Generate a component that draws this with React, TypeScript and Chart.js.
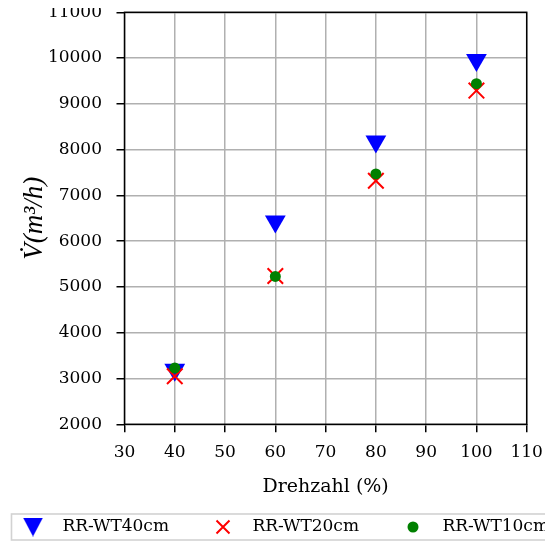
import React, { useEffect, useRef } from 'react';
import { Chart, registerables } from 'chart.js';

Chart.register(...registerables);

// ---- data ----
const drehzahl = [40, 60, 80, 100];
const wt40 = [3190, 6430, 8180, 9960];
const wt20 = [3050, 5240, 7320, 9290];
const wt10 = [3230, 5230, 7470, 9440];
const seriesNames = ['RR-WT40cm', 'RR-WT20cm', 'RR-WT10cm'];
const seriesColors = ['#0000ff', '#ff0000', '#008000'];
const xTitle = 'Drehzahl (%)';
const yTitle = 'V\u0307(m\u00b3/h)';
const xMin = 30, xMax = 110, xStep = 10;
const yMin = 2000, yMax = 11000, yStep = 1000;

const FAMILY = '"DejaVu Serif", serif';
const TITLE_FAMILY = '"Liberation Serif", "DejaVu Serif", serif';

function makeIcon(kind: number): HTMLCanvasElement {
  const c = document.createElement('canvas');
  const ctx = c.getContext('2d')!;
  if (kind === 0) {
    c.width = 20; c.height = 19;
    ctx.fillStyle = seriesColors[0];
    ctx.beginPath();
    ctx.moveTo(0, 0); ctx.lineTo(20, 0); ctx.lineTo(10, 19); ctx.closePath();
    ctx.fill();
  } else if (kind === 1) {
    c.width = 16; c.height = 16;
    ctx.strokeStyle = seriesColors[1];
    ctx.lineWidth = 2;
    ctx.beginPath();
    ctx.moveTo(1.5, 1.5); ctx.lineTo(14.5, 14.5);
    ctx.moveTo(14.5, 1.5); ctx.lineTo(1.5, 14.5);
    ctx.stroke();
  } else {
    c.width = 12; c.height = 12;
    ctx.fillStyle = seriesColors[2];
    ctx.beginPath();
    ctx.arc(6, 6, 5.5, 0, Math.PI * 2);
    ctx.fill();
  }
  return c;
}

export default function App() {
  const ref = useRef<HTMLCanvasElement>(null);

  useEffect(() => {
    const canvas = ref.current!;
    const legendSize = 17;
    const m = document.createElement('canvas').getContext('2d')!;
    m.font = `${legendSize}px ${FAMILY}`;
    const tw = m.measureText(seriesNames[0]).width;
    const B = 42;
    const P = Math.round(190 - (B + legendSize / 2 + tw));
    const M = P - 4;
    const Cw = 580 + P;
    const Ch = 546;
    canvas.width = Cw;
    canvas.height = Ch;
    canvas.style.width = Cw + 'px';
    canvas.style.height = Ch + 'px';
    canvas.style.left = -M + 'px';

    const plotTop = 12.3;
    const plotBottom = 424.3;
    const plotLeft = 116.5 + M;
    const plotRight = 518.7 + M;
    const rightW = Cw - plotRight;
    const legendTop = 527 - legendSize / 2 - P;
    const legendH = legendSize + P + 10;
    const padBottom = Ch - legendTop - legendH;
    const xAxisH = legendTop - plotBottom;

    const icons = [makeIcon(0), makeIcon(1), makeIcon(2)];
    const tickFont = { family: FAMILY, size: 17 };
    const yTitleSize = 27;

    const framePlugin = {
      id: 'frame',
      beforeDatasetsDraw(chart: any) {
        const { ctx, chartArea: a } = chart;
        ctx.save();
        ctx.strokeStyle = '#000';
        ctx.lineWidth = 1.5;
        ctx.strokeRect(a.left, a.top, a.right - a.left, a.bottom - a.top);
        ctx.restore();
      },
      afterDraw(chart: any) {
        const { ctx } = chart;
        const lg = chart.legend;
        const cy = lg.top + P + legendSize / 2;
        ctx.save();
        ctx.strokeStyle = '#d2d2d2';
        ctx.lineWidth = 1.6;
        ctx.strokeRect(lg.left + P - 0.5, cy - 13, Cw + 10, 26);
        ctx.restore();
      },
    };

    const chart = new Chart(canvas, {
      type: 'scatter',
      data: {
        datasets: [
          {
            label: seriesNames[0],
            data: drehzahl.map((x, i) => ({ x, y: wt40[i] })),
            pointStyle: 'triangle',
            pointRotation: 180,
            pointRadius: 12,
            pointBackgroundColor: seriesColors[0],
            pointBorderColor: seriesColors[0],
            pointBorderWidth: 0,
            order: 3,
          },
          {
            label: seriesNames[1],
            data: drehzahl.map((x, i) => ({ x, y: wt20[i] })),
            pointStyle: 'crossRot',
            pointRadius: 11,
            pointBackgroundColor: seriesColors[1],
            pointBorderColor: seriesColors[1],
            pointBorderWidth: 2,
            order: 2,
          },
          {
            label: seriesNames[2],
            data: drehzahl.map((x, i) => ({ x, y: wt10[i] })),
            pointStyle: 'circle',
            pointRadius: 5.5,
            pointBackgroundColor: seriesColors[2],
            pointBorderColor: seriesColors[2],
            pointBorderWidth: 0,
            order: 1,
          },
        ],
      } as any,
      options: {
        responsive: false,
        animation: false,
        events: [],
        layout: { autoPadding: false, padding: { top: plotTop, left: 0, right: 0, bottom: padBottom } },
        scales: {
          x: {
            type: 'linear',
            position: 'bottom',
            min: xMin,
            max: xMax,
            ticks: { stepSize: xStep, font: tickFont, color: '#000', padding: 10.5, maxRotation: 0, autoSkip: false, callback: (v: any) => String(v) },
            grid: { color: '#b0b0b0', lineWidth: 1.5, tickLength: 8, tickColor: '#000', tickWidth: 1.5 },
            border: { display: false },
            title: { display: true, text: xTitle, color: '#000', font: { family: FAMILY, size: 19 }, padding: { top: 0, bottom: 19.6 - P } },
            afterFit: (s: any) => { s.height = xAxisH; s.paddingLeft = 0; s.paddingRight = 0; },
          },
          y: {
            type: 'linear',
            position: 'left',
            min: yMin,
            max: yMax,
            ticks: { stepSize: yStep, font: tickFont, color: '#000', padding: 14.5, autoSkip: false, callback: (v: any) => String(v) },
            grid: { color: '#b0b0b0', lineWidth: 1.5, tickLength: 8, tickColor: '#000', tickWidth: 1.5 },
            border: { display: false },
            title: { display: true, text: yTitle, color: '#000', font: { family: TITLE_FAMILY, size: yTitleSize, style: 'italic' }, padding: { top: 27 + M - yTitleSize * 0.6, bottom: 0 } },
            afterFit: (s: any) => { s.width = plotLeft; s.paddingTop = 0; s.paddingBottom = 0; },
          },
          y2: {
            type: 'linear',
            position: 'right',
            min: 0,
            max: 1,
            display: true,
            grid: { display: false },
            ticks: { display: false },
            border: { display: false },
            afterFit: (s: any) => { s.width = rightW; s.paddingTop = 0; s.paddingBottom = 0; },
          },
        },
        plugins: {
          tooltip: { enabled: false },
          legend: {
            display: true,
            position: 'bottom',
            align: 'start',
            labels: {
              usePointStyle: true,
              pointStyleWidth: B,
              padding: P,
              color: '#000',
              font: { family: FAMILY, size: legendSize },
              generateLabels: () =>
                seriesNames.map((t, i) => ({
                  text: t,
                  pointStyle: icons[i],
                  rotation: 0,
                  fillStyle: seriesColors[i],
                  strokeStyle: seriesColors[i],
                  lineWidth: 0,
                  hidden: false,
                  datasetIndex: i,
                  fontColor: '#000',
                })),
            },
          },
        },
      } as any,
      plugins: [framePlugin],
    });

    return () => chart.destroy();
  }, []);

  return (
    <div style={{ position: 'relative', width: 545, height: 542, marginTop: -8, overflow: 'hidden' }}>
      <canvas ref={ref} style={{ position: 'absolute', top: 0, left: 0 }} />
    </div>
  );
}
